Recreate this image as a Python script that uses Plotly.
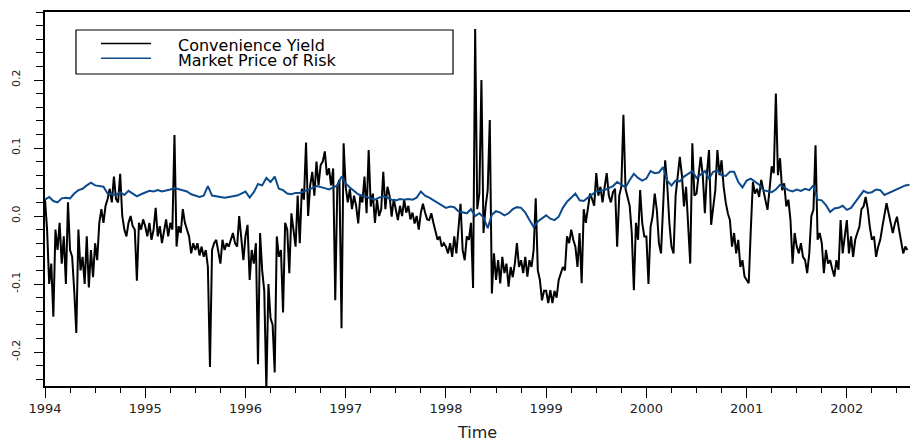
import plotly.graph_objects as go

# ---------------- data ----------------
years = [1994, 1995, 1996, 1997, 1998, 1999, 2000, 2001, 2002]
cy_per_year = 48    # convenience-yield readings per year
mpr_per_year = 24   # market-price-of-risk readings per year

cy_1994 = [0.024, -0.02, -0.10, -0.07, -0.148, -0.02, -0.05, -0.01, -0.07, -0.03, -0.10, 0.02,
           -0.05, -0.06, -0.11, -0.172, -0.02, -0.08, -0.06, -0.10, -0.03, -0.105, -0.05, -0.09,
           -0.04, -0.065, -0.01, 0.01, -0.01, 0.015, 0.025, 0.04, 0.02, 0.058, 0.025, 0.02,
           0.062, 0.0, -0.02, -0.03, -0.01, 0.0, -0.015, -0.02, -0.095, -0.01, -0.02, -0.005]
cy_1995 = [-0.015, -0.03, -0.01, -0.035, -0.02, 0.012, -0.03, -0.015, -0.04, -0.02, -0.005, -0.03,
           -0.01, -0.02, 0.119, -0.045, -0.015, -0.025, 0.01, -0.01, -0.02, -0.03, -0.055, -0.04,
           -0.05, -0.04, -0.058, -0.045, -0.06, -0.05, -0.075, -0.222, -0.05, -0.04, -0.035, -0.05,
           -0.07, -0.035, -0.05, -0.04, -0.045, -0.035, -0.025, -0.04, -0.045, 0.0, -0.035, -0.065]
cy_1996 = [-0.03, -0.013, -0.094, -0.05, -0.07, -0.04, -0.218, -0.025, -0.08, -0.11, -0.255, -0.1,
           -0.15, -0.16, -0.23, -0.03, -0.06, -0.05, -0.142, -0.01, -0.02, -0.084, 0.004, -0.02,
           -0.045, 0.03, -0.04, 0.04, 0.024, 0.108, 0.0, 0.045, 0.065, 0.03, 0.08, 0.045,
           0.075, 0.08, 0.095, 0.06, 0.07, 0.045, 0.07, -0.124, 0.045, 0.053, -0.165, 0.107]
cy_1997 = [0.043, 0.02, 0.04, 0.01, 0.03, 0.015, -0.011, 0.03, 0.02, 0.058, 0.004, 0.097,
           0.014, 0.033, -0.01, 0.024, 0.0, 0.01, 0.065, 0.01, 0.043, 0.03, -0.001, 0.025,
           0.01, -0.006, 0.015, 0.0, 0.024, 0.005, 0.015, -0.005, 0.005, -0.011, 0.0, -0.02,
           0.005, 0.018, 0.005, -0.005, -0.006, 0.004, -0.01, -0.025, -0.035, -0.03, -0.045, -0.04]
cy_1998 = [-0.045, -0.055, -0.04, -0.06, -0.03, -0.055, -0.02, 0.018, -0.05, -0.065, -0.03, -0.035,
           -0.01, -0.106, 0.275, 0.01, 0.033, 0.2, -0.025, 0.014, 0.038, 0.141, -0.114, -0.055,
           -0.094, -0.065, -0.099, -0.06, -0.084, -0.07, -0.104, -0.075, -0.09, -0.07, -0.04, -0.075,
           -0.065, -0.084, -0.06, -0.089, -0.065, -0.075, -0.05, 0.026, -0.08, -0.094, -0.124, -0.11]
cy_1999 = [-0.11, -0.128, -0.109, -0.128, -0.11, -0.12, -0.094, -0.084, -0.075, -0.08, -0.03, -0.04,
           -0.02, -0.035, -0.045, -0.075, -0.025, -0.099, 0.01, -0.01, 0.015, 0.033, 0.025, 0.015,
           0.063, 0.03, 0.043, 0.02, 0.043, 0.063, 0.03, 0.02, 0.035, 0.04, -0.045, 0.03,
           0.043, 0.149, 0.04, 0.025, 0.015, -0.025, -0.109, -0.01, -0.035, 0.038, -0.01, -0.03]
cy_2000 = [-0.03, -0.1, -0.016, 0.0, 0.033, 0.009, -0.04, -0.055, 0.028, 0.082, 0.045, -0.01,
           -0.045, -0.055, 0.03, 0.058, 0.087, 0.06, 0.014, 0.043, -0.006, -0.07, 0.107, 0.03,
           0.033, 0.063, 0.087, 0.06, 0.004, 0.063, 0.097, -0.013, 0.014, 0.038, 0.097, 0.06,
           0.082, 0.043, 0.02, 0.004, -0.006, -0.045, -0.025, -0.055, -0.035, -0.075, -0.065, -0.089]
cy_2001 = [-0.094, -0.099, -0.02, 0.05, 0.033, 0.04, 0.028, 0.053, 0.038, 0.024, 0.009, 0.04,
           0.073, 0.063, 0.18, 0.06, 0.085, 0.038, 0.048, 0.014, 0.024, -0.006, -0.07, -0.025,
           -0.045, -0.055, -0.04, -0.06, -0.065, -0.084, -0.055, 0.0, 0.009, 0.104, -0.035, -0.025,
           -0.04, -0.084, -0.05, -0.07, -0.065, -0.078, -0.089, -0.065, -0.079, -0.006, -0.055, -0.03]
cy_2002 = [-0.006, -0.055, -0.03, -0.06, -0.035, -0.025, -0.016, 0.01, 0.014, 0.028, 0.01, -0.016,
           -0.035, -0.03, -0.06, -0.045, -0.035, -0.016, 0.0, 0.019, 0.004, -0.01, -0.025, -0.011,
           -0.001, -0.02, -0.035, -0.055, -0.045, -0.05]

mpr_1994 = [0.024, 0.028, 0.022, 0.02, 0.026, 0.027, 0.026, 0.033, 0.038, 0.04, 0.045, 0.049,
            0.045, 0.044, 0.043, 0.033, 0.032, 0.031, 0.035, 0.031, 0.037, 0.033, 0.029, 0.032]
mpr_1995 = [0.034, 0.037, 0.036, 0.038, 0.036, 0.037, 0.039, 0.041, 0.039, 0.037, 0.036, 0.032,
            0.03, 0.028, 0.03, 0.044, 0.03, 0.029, 0.027, 0.027, 0.028, 0.029, 0.03, 0.033]
mpr_1996 = [0.036, 0.027, 0.035, 0.047, 0.045, 0.056, 0.05, 0.058, 0.04, 0.038, 0.033, 0.032,
            0.034, 0.034, 0.036, 0.038, 0.041, 0.044, 0.043, 0.041, 0.039, 0.042, 0.045, 0.058]
mpr_1997 = [0.048, 0.042, 0.037, 0.032, 0.03, 0.028, 0.025, 0.024, 0.027, 0.029, 0.027, 0.024,
            0.023, 0.025, 0.024, 0.025, 0.024, 0.027, 0.036, 0.03, 0.027, 0.023, 0.019, 0.016]
mpr_1998 = [0.012, 0.014, 0.013, 0.007, 0.005, 0.004, 0.01, 0.0, 0.004, -0.002, -0.018, 0.002,
            0.007, 0.005, 0.001, 0.004, 0.01, 0.013, 0.012, 0.005, -0.006, -0.016, -0.008, -0.003]
mpr_1999 = [0.001, -0.004, -0.006, -0.001, 0.012, 0.021, 0.027, 0.033, 0.023, 0.022, 0.027, 0.031,
            0.036, 0.037, 0.038, 0.041, 0.044, 0.05, 0.046, 0.042, 0.053, 0.062, 0.056, 0.052]
mpr_2000 = [0.055, 0.066, 0.063, 0.064, 0.072, 0.052, 0.045, 0.052, 0.051, 0.058, 0.062, 0.066,
            0.056, 0.061, 0.066, 0.055, 0.065, 0.067, 0.06, 0.059, 0.065, 0.065, 0.05, 0.042]
mpr_2001 = [0.052, 0.055, 0.05, 0.046, 0.038, 0.036, 0.035, 0.039, 0.046, 0.042, 0.038, 0.036,
            0.039, 0.037, 0.04, 0.038, 0.045, 0.024, 0.023, 0.016, 0.006, 0.011, 0.012, 0.015]
mpr_2002 = [0.009, 0.012, 0.02, 0.029, 0.037, 0.034, 0.035, 0.039, 0.038, 0.031, 0.034, 0.037,
            0.039, 0.042, 0.045, 0.046]

cy_by_year = [cy_1994, cy_1995, cy_1996, cy_1997, cy_1998, cy_1999, cy_2000, cy_2001, cy_2002]
mpr_by_year = [mpr_1994, mpr_1995, mpr_1996, mpr_1997, mpr_1998, mpr_1999, mpr_2000, mpr_2001, mpr_2002]

y_tick_values = [-0.2, -0.1, 0.0, 0.1, 0.2]
y_tick_labels = ["-0.2", "-0.1", "0.0", "0.1", "0.2"]
series_names = ["Convenience Yield", "Market Price of Risk"]


def build(series_by_year, per_year):
    xs, ys = [], []
    for yr, vals in zip(years, series_by_year):
        for i, v in enumerate(vals):
            xs.append(yr + i / per_year)
            ys.append(v)
    return xs, ys


cy_x, cy_y = build(cy_by_year, cy_per_year)
mpr_x, mpr_y = build(mpr_by_year, mpr_per_year)

BLACK = "#000000"
BLUE = "#0d4a8c"
FONT = "DejaVu Sans"

fig = go.Figure()
fig.add_trace(go.Scatter(x=cy_x, y=cy_y, mode="lines", name=series_names[0],
                         line=dict(color=BLACK, width=2.0), showlegend=False))
fig.add_trace(go.Scatter(x=mpr_x, y=mpr_y, mode="lines", name=series_names[1],
                         line=dict(color=BLUE, width=2.0), showlegend=False))

# hand-drawn legend box (positions in paper fractions of the plot area)
fig.add_shape(type="rect", xref="paper", yref="paper", x0=0.0358, x1=0.4717, y0=0.8342, y1=0.9519,
              line=dict(color="black", width=1.2), fillcolor="white", layer="above")
fig.add_shape(type="line", xref="paper", yref="paper", x0=0.0647, x1=0.1225, y0=0.9158, y1=0.9158,
              line=dict(color=BLACK, width=1.6), layer="above")
fig.add_shape(type="line", xref="paper", yref="paper", x0=0.0647, x1=0.1225, y0=0.8762, y1=0.8762,
              line=dict(color=BLUE, width=1.6), layer="above")
fig.add_annotation(xref="paper", yref="paper", x=0.1514, y=0.9105, xanchor="left", yanchor="middle",
                   text=series_names[0], showarrow=False, font=dict(family=FONT, size=16, color="black"))
fig.add_annotation(xref="paper", yref="paper", x=0.1514, y=0.8705, xanchor="left", yanchor="middle",
                   text=series_names[1], showarrow=False, font=dict(family=FONT, size=16, color="black"))

fig.update_layout(
    width=910, height=442,
    margin=dict(l=45, r=0, t=12, b=56),
    paper_bgcolor="white", plot_bgcolor="white",
    font=dict(family=FONT, color="#222222"),
    showlegend=False,
)
fig.update_xaxes(
    range=[1994, 2002.63], tickmode="linear", tick0=1994, dtick=1, tickformat="d",
    ticks="outside", ticklen=10, tickwidth=1, tickcolor="black",
    showline=True, linecolor="black", linewidth=1.5, mirror=True,
    showgrid=False, zeroline=False, automargin=False,
    tickfont=dict(family=FONT, size=13, color="#222222"),
    minor=dict(tick0=1994, dtick=0.25, ticks="outside", ticklen=5, tickwidth=1, tickcolor="black", showgrid=False),
    title=dict(text="Time", font=dict(family=FONT, size=16, color="#222222"), standoff=18),
)
fig.update_yaxes(
    range=[-0.25, 0.30], tickmode="array", tickvals=y_tick_values, ticktext=y_tick_labels,
    tickangle=-90, ticks="outside", ticklen=9, tickwidth=1, tickcolor="black",
    showline=True, linecolor="black", linewidth=1.5,
    showgrid=False, zeroline=False, ticklabelstandoff=10, automargin=False,
    tickfont=dict(family=FONT, size=11, color="#222222"),
    minor=dict(tick0=0, dtick=0.02, ticks="outside", ticklen=7, tickwidth=1, tickcolor="black", showgrid=False),
)

fig.write_html(
    "out.html",
    config={"displayModeBar": False},
    post_script="document.body.style.margin='0';document.body.style.padding='0';",
)
